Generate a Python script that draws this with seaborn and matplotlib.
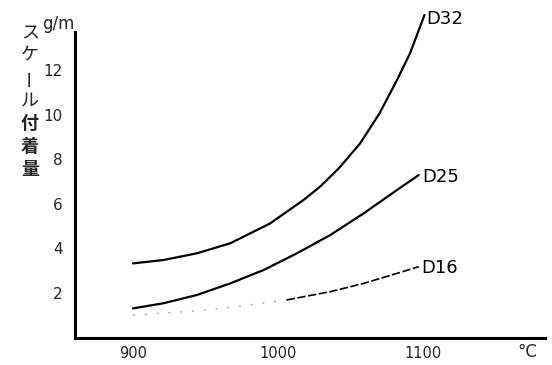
import matplotlib
matplotlib.use("Agg")
import matplotlib.pyplot as plt
import numpy as np
import pandas as pd
import seaborn as sns

# ---- data ----
temp_d32 = [900, 921, 944, 967, 994.5, 1017.5, 1029, 1042, 1056.6, 1070, 1082, 1091, 1101]
val_d32 = [3.33, 3.48, 3.78, 4.23, 5.12, 6.17, 6.77, 7.6, 8.71, 10.06, 11.55, 12.75, 14.47]

temp_d25 = [900, 921, 944, 967, 990, 1013, 1036, 1059, 1082, 1097]
val_d25 = [1.31, 1.54, 1.91, 2.43, 3.03, 3.78, 4.6, 5.57, 6.62, 7.29]

temp_d16_faint = [900, 953, 971.5, 1006]
val_d16_faint = [1.01, 1.24, 1.39, 1.69]
temp_d16 = [1006, 1036, 1059, 1082, 1097]
val_d16 = [1.69, 2.06, 2.43, 2.88, 3.18]

series_names = ["D32", "D25", "D16"]
x_ticks = [900, 1000, 1100]
x_ticklabels = ["900", "1000", "1100"]
y_ticks = [2, 4, 6, 8, 10, 12]
y_ticklabels = ["2", "4", "6", "8", "10", "12"]
y_title = "スケール付着量"
y_unit = "g/m"
x_unit = "°C"

df_main = pd.DataFrame({
    "temp": temp_d32 + temp_d25,
    "val": val_d32 + val_d25,
    "series": ["D32"] * len(temp_d32) + ["D25"] * len(temp_d25),
})
df_d16a = pd.DataFrame({"temp": temp_d16_faint, "val": val_d16_faint})
df_d16b = pd.DataFrame({"temp": temp_d16, "val": val_d16})

sns.set_style("white")
plt.rcParams["font.family"] = ["DejaVu Sans", "Noto Sans CJK JP"]

W, H = 552, 365
fig = plt.figure(figsize=(W / 100, H / 100), dpi=100)
x0, y0px, x1, ytop = 75, 337.6, 545, 5
ax = fig.add_axes([x0 / W, 1 - y0px / H, (x1 - x0) / W, (y0px - ytop) / H])

sns.lineplot(data=df_main, x="temp", y="val", units="series", estimator=None,
             color="black", lw=1.6, ax=ax, legend=False)
sns.lineplot(data=df_d16a, x="temp", y="val", color="#aaaaaa", lw=1.0,
             linestyle=(0, (1.5, 7)), ax=ax, legend=False)
sns.lineplot(data=df_d16b, x="temp", y="val", color="black", lw=1.2,
             linestyle=(0, (5, 1.5)), ax=ax, legend=False)

ax.set_xlim(860, 1184.1)
ax.set_ylim(0, 14.92)

for sp in ["top", "right"]:
    ax.spines[sp].set_visible(False)
for sp in ["left", "bottom"]:
    ax.spines[sp].set_linewidth(2.2)
    ax.spines[sp].set_color("black")
ax.spines["left"].set_bounds(0, 13.7)

ax.set_xticks(x_ticks)
ax.set_xticklabels(x_ticklabels, fontsize=10.5)
ax.set_yticks(y_ticks)
ax.set_yticklabels(y_ticklabels, fontsize=11)
ax.tick_params(axis="both", direction="in", length=8, width=1.8, color="black")
ax.tick_params(axis="y", pad=9)
ax.tick_params(axis="x", pad=6)
ax.set_xlabel("")
ax.set_ylabel("")

# curve labels
label_pos = {"D32": (1102.5, 14.3), "D25": (1099.5, 7.2), "D16": (1099, 3.1)}
for name in series_names:
    tx, ty = label_pos[name]
    ax.text(tx, ty, name, fontsize=13, va="center", ha="left", color="black")

# units
fig.text(527 / W, 1 - 352 / H, x_unit, fontsize=12, ha="center", va="center")
fig.text(58 / W, 1 - 24 / H, y_unit, fontsize=12, ha="center", va="center")

# vertical stacked y title
n = len(y_title)
ys = np.linspace(33, 169, n)
for ch, yy in zip(y_title, ys):
    rot = 90 if ch == "ー" else 0
    fig.text(30 / W, 1 - yy / H, ch, fontsize=13, ha="center", va="center",
             rotation=rot, family=["Noto Sans CJK JP", "DejaVu Sans"],
             fontweight="bold" if ch in "付着量" else "normal")

fig.savefig("out.png", dpi=100)
